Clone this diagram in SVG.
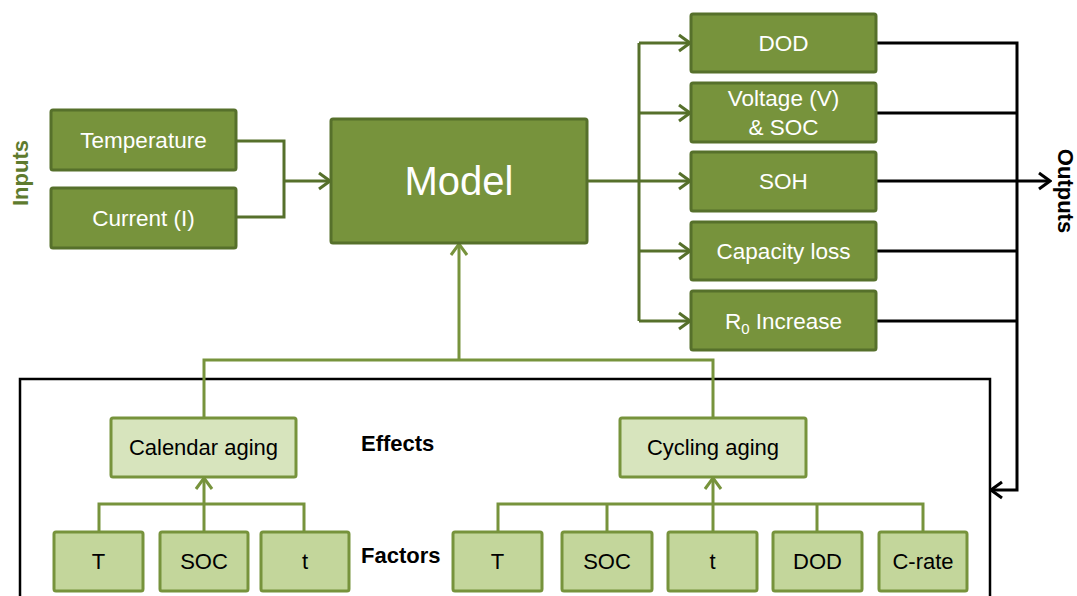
<svg xmlns="http://www.w3.org/2000/svg" width="1077" height="596" viewBox="0 0 1077 596">
<defs>
<style>
.dk{fill:#77933C;stroke:#56702B;stroke-width:3}
.lt1{fill:#D7E4BD;stroke:#77933C;stroke-width:3}
.lt2{fill:#C3D69B;stroke:#77933C;stroke-width:3}
.wt{font-family:"Liberation Sans",Arial,sans-serif;font-size:22.5px;fill:#FFFFFF;text-anchor:middle}
.bt{font-family:"Liberation Sans",Arial,sans-serif;font-size:22px;fill:#000000;text-anchor:middle}
.lbl{font-family:"Liberation Sans",Arial,sans-serif;font-size:22px;font-weight:bold}
.cg{fill:none;stroke:#56702B;stroke-width:3}
.cl{fill:none;stroke:#77933C;stroke-width:3}
.ck{fill:none;stroke:#000000;stroke-width:3}
</style>
<marker id="ag" viewBox="0 0 15 20" refX="13" refY="10" markerWidth="15" markerHeight="20" markerUnits="userSpaceOnUse" orient="auto"><path d="M2,2 L13,10 L2,18" fill="none" stroke="#56702B" stroke-width="3"/></marker>
<marker id="al" viewBox="0 0 15 20" refX="13" refY="10" markerWidth="15" markerHeight="20" markerUnits="userSpaceOnUse" orient="auto"><path d="M2,2 L13,10 L2,18" fill="none" stroke="#77933C" stroke-width="3"/></marker>
<marker id="ak" viewBox="0 0 15 20" refX="13" refY="10" markerWidth="15" markerHeight="20" markerUnits="userSpaceOnUse" orient="auto"><path d="M2,2 L13,10 L2,18" fill="none" stroke="#000000" stroke-width="3"/></marker>
</defs>
<rect width="1077" height="596" fill="#FFFFFF"/>

<g id="frame">
<path d="M20,600 L20,379 L990,379 L990,600" fill="none" stroke="#000000" stroke-width="2.5"/>
</g>

<g id="connectors">
<path class="cg" d="M236,141 H284 V217 H236"/>
<path class="cg" d="M284,181 H330" marker-end="url(#ag)"/>
<path class="cg" d="M587,181 H690" marker-end="url(#ag)"/>
<path class="cg" d="M639,43 V321"/>
<path class="cg" d="M639,43 H690" marker-end="url(#ag)"/>
<path class="cg" d="M639,113 H690" marker-end="url(#ag)"/>
<path class="cg" d="M639,251 H690" marker-end="url(#ag)"/>
<path class="cg" d="M639,321 H690" marker-end="url(#ag)"/>
<path class="ck" d="M876,43 H1017 V490 H991" marker-end="url(#ak)"/>
<path class="ck" d="M876,113 H1017"/>
<path class="ck" d="M876,251 H1017"/>
<path class="ck" d="M876,321 H1017"/>
<path class="ck" d="M876,181 H1050" marker-end="url(#ak)"/>
<path class="cl" d="M204,418 V360 H713 V418"/>
<path class="cl" d="M459,360 V244" marker-end="url(#al)"/>
<path class="cl" d="M99,532 V504 H304 V532"/>
<path class="cl" d="M204,532 V478" marker-end="url(#al)"/>
<path class="cl" d="M498,532 V504 H923 V532"/>
<path class="cl" d="M607,504 V532 M817,504 V532"/>
<path class="cl" d="M713,532 V478" marker-end="url(#al)"/>
</g>

<g id="labels">
<text class="lbl" fill="#5E7B2E" text-anchor="middle" transform="translate(28,173) rotate(-90)">Inputs</text>
<text class="lbl" fill="#000000" text-anchor="middle" transform="translate(1058,191) rotate(90)">Outputs</text>
<text class="lbl" fill="#000000" x="361" y="451">Effects</text>
<text class="lbl" fill="#000000" x="361" y="563">Factors</text>
</g>

<g id="temperature"><rect class="dk" x="51" y="110" width="185" height="60" rx="2"/><text class="wt" x="143.5" y="148">Temperature</text></g>
<g id="current"><rect class="dk" x="51" y="188" width="185" height="60" rx="2"/><text class="wt" x="143.5" y="226">Current (I)</text></g>
<g id="model"><rect class="dk" x="331" y="119" width="256" height="124" rx="2"/><text class="wt" x="459" y="195" style="font-size:40px">Model</text></g>

<g id="dod-out"><rect class="dk" x="691" y="14" width="185" height="58" rx="2"/><text class="wt" x="783.5" y="51">DOD</text></g>
<g id="voltage-soc"><rect class="dk" x="691" y="83" width="185" height="59" rx="2"/><text class="wt" x="783.5" y="106">Voltage (V)</text><text class="wt" x="783.5" y="135">&amp; SOC</text></g>
<g id="soh"><rect class="dk" x="691" y="152" width="185" height="59" rx="2"/><text class="wt" x="783.5" y="189">SOH</text></g>
<g id="capacity-loss"><rect class="dk" x="691" y="222" width="185" height="58" rx="2"/><text class="wt" x="783.5" y="259">Capacity loss</text></g>
<g id="r0-increase"><rect class="dk" x="691" y="291" width="185" height="59" rx="2"/><text class="wt" x="783.5" y="329">R<tspan dy="5" style="font-size:15px">0</tspan><tspan dy="-5"> Increase</tspan></text></g>

<g id="calendar-aging"><rect class="lt1" x="111" y="418" width="185" height="59" rx="2"/><text class="bt" x="203.5" y="455">Calendar aging</text></g>
<g id="cycling-aging"><rect class="lt1" x="620" y="418" width="186" height="59" rx="2"/><text class="bt" x="713" y="455">Cycling aging</text></g>

<g id="cal-T"><rect class="lt2" x="54" y="532" width="89" height="59" rx="2"/><text class="bt" x="98.5" y="569">T</text></g>
<g id="cal-SOC"><rect class="lt2" x="160" y="532" width="88" height="59" rx="2"/><text class="bt" x="204" y="569">SOC</text></g>
<g id="cal-t"><rect class="lt2" x="261" y="532" width="88" height="59" rx="2"/><text class="bt" x="305" y="569">t</text></g>

<g id="cyc-T"><rect class="lt2" x="453" y="532" width="89" height="59" rx="2"/><text class="bt" x="497.5" y="569">T</text></g>
<g id="cyc-SOC"><rect class="lt2" x="562" y="532" width="90" height="59" rx="2"/><text class="bt" x="607" y="569">SOC</text></g>
<g id="cyc-t"><rect class="lt2" x="668" y="532" width="89" height="59" rx="2"/><text class="bt" x="712.5" y="569">t</text></g>
<g id="cyc-DOD"><rect class="lt2" x="773" y="532" width="89" height="59" rx="2"/><text class="bt" x="817.5" y="569">DOD</text></g>
<g id="cyc-C-rate"><rect class="lt2" x="879" y="532" width="88" height="59" rx="2"/><text class="bt" x="923" y="569">C-rate</text></g>
</svg>
